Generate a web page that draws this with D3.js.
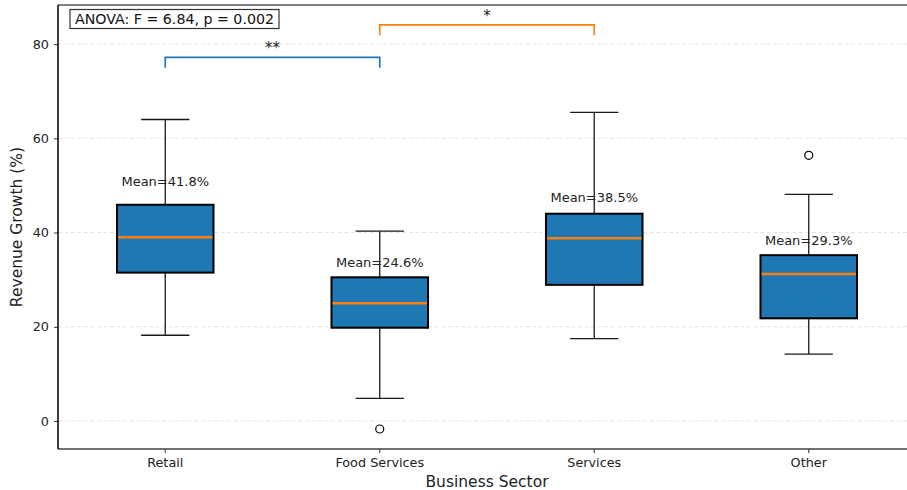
<!DOCTYPE html>
<html>
<head>
<meta charset="utf-8">
<script src="https://cdn.jsdelivr.net/npm/d3@7"></script>
<style>
  html, body { margin: 0; padding: 0; background: #fff; }
  svg { display: block; font-family: "DejaVu Sans", sans-serif; }
</style>
</head>
<body>
<svg id="chart" width="907" height="490"></svg>
<script>
// Revenue growth by business sector: box statistics
const sectors = ["Retail", "Food Services", "Services", "Other"];
const whiskerLow = [18.2, 4.8, 17.5, 14.2];
const q1 = [31.5, 19.8, 28.9, 21.8];
const medians = [39.0, 25.0, 38.8, 31.2];
const q3 = [45.9, 30.5, 44.0, 35.2];
const whiskerHigh = [64.0, 40.3, 65.5, 48.1];
const means = [41.8, 24.6, 38.5, 29.3];
const outliers = [[], [-1.7], [], [56.4]];
const yTicks = [0, 20, 40, 60, 80];

// Pairwise significance brackets
const pairFrom = ["Retail", "Food Services"];
const pairTo = ["Food Services", "Services"];
const pairHeight = [77.2, 84.1];
const pairStars = ["**", "*"];
const anovaText = "ANOVA: F = 6.84, p = 0.002";

const blue = "#1f77b4", orange = "#ff7f0e";
const svg = d3.select("#chart");
const plotL = 58, plotR = 916, plotT = 5, plotB = 449;

const x = d3.scaleBand().domain(sectors).range([plotL, plotR]).padding(0);
const y = d3.scaleLinear().domain([-5.94, 88.3]).range([plotB, plotT]);
const cx = s => x(s) + x.bandwidth() / 2;
const boxW = x.bandwidth() * 0.45;

// horizontal grid
svg.append("g").selectAll("line").data(yTicks).join("line")
  .attr("x1", plotL).attr("x2", plotR)
  .attr("y1", d => y(d)).attr("y2", d => y(d))
  .attr("stroke", "#dcdcdc").attr("stroke-width", 0.8)
  .attr("stroke-dasharray", "4,2.5");

// y axis
const yAxis = svg.append("g").attr("transform", `translate(${plotL},0)`)
  .call(d3.axisLeft(y).tickValues(yTicks).tickSize(4).tickPadding(5).tickFormat(d3.format("d")));
yAxis.select(".domain").remove();
yAxis.selectAll("text").attr("font-size", 12.8).attr("fill", "#222").attr("font-family", "DejaVu Sans");
yAxis.selectAll("line").attr("stroke", "#333");

// x axis
const xAxis = svg.append("g").attr("transform", `translate(0,${plotB})`)
  .call(d3.axisBottom(x).tickSize(4).tickPadding(5));
xAxis.select(".domain").remove();
xAxis.selectAll("text").attr("font-size", 12.8).attr("fill", "#222").attr("font-family", "DejaVu Sans");
xAxis.selectAll("line").attr("stroke", "#333");

// boxes
const g = svg.append("g");
sectors.forEach((s, i) => {
  const c = cx(s);
  // whiskers
  g.append("line").attr("x1", c).attr("x2", c)
    .attr("y1", y(q3[i])).attr("y2", y(whiskerHigh[i]))
    .attr("stroke", "#1a1a1a").attr("stroke-width", 1.3);
  g.append("line").attr("x1", c).attr("x2", c)
    .attr("y1", y(q1[i])).attr("y2", y(whiskerLow[i]))
    .attr("stroke", "#1a1a1a").attr("stroke-width", 1.3);
  // caps
  [whiskerHigh[i], whiskerLow[i]].forEach(v => {
    g.append("line").attr("x1", c - boxW / 4).attr("x2", c + boxW / 4)
      .attr("y1", y(v)).attr("y2", y(v))
      .attr("stroke", "#1a1a1a").attr("stroke-width", 1.3);
  });
  // box
  g.append("rect").attr("x", c - boxW / 2).attr("width", boxW)
    .attr("y", y(q3[i])).attr("height", y(q1[i]) - y(q3[i]))
    .attr("fill", blue).attr("stroke", "#000").attr("stroke-width", 2);
  // median
  g.append("line").attr("x1", c - boxW / 2 + 1).attr("x2", c + boxW / 2 - 1)
    .attr("y1", y(medians[i])).attr("y2", y(medians[i]))
    .attr("stroke", orange).attr("stroke-width", 2.4);
  // outliers
  outliers[i].forEach(v => {
    g.append("circle").attr("cx", c).attr("cy", y(v)).attr("r", 4)
      .attr("fill", "none").attr("stroke", "#000").attr("stroke-width", 1.2);
  });
  // mean label
  g.append("text").attr("x", c).attr("y", y(means[i] + 8))
    .attr("text-anchor", "middle").attr("font-size", 13).attr("fill", "#222")
    .text(`Mean=${means[i].toFixed(1)}%`);
});

// significance brackets
const bracketColors = [blue, orange];
pairFrom.forEach((a, i) => {
  const x1 = cx(a), x2 = cx(pairTo[i]);
  const h = pairHeight[i], drop = 2.2;
  svg.append("path")
    .attr("d", `M${x1},${y(h - drop)}V${y(h)}H${x2}V${y(h - drop)}`)
    .attr("fill", "none").attr("stroke", bracketColors[i]).attr("stroke-width", 1.7);
  svg.append("text").attr("x", (x1 + x2) / 2).attr("y", y(h) - 4)
    .attr("text-anchor", "middle").attr("font-size", 15).attr("fill", "#222")
    .text(pairStars[i]);
});

// spines
svg.append("line").attr("x1", plotL).attr("x2", plotR).attr("y1", plotT).attr("y2", plotT)
  .attr("stroke", "#808080").attr("stroke-width", 2);
svg.append("line").attr("x1", plotL).attr("x2", plotR).attr("y1", plotB).attr("y2", plotB)
  .attr("stroke", "#444").attr("stroke-width", 1.5);
svg.append("line").attr("x1", plotL).attr("x2", plotL).attr("y1", plotT).attr("y2", plotB)
  .attr("stroke", "#000").attr("stroke-width", 1.5);

// ANOVA annotation box
const anovaG = svg.append("g");
const anovaRect = anovaG.append("rect");
const at = anovaG.append("text").attr("x", 75).attr("y", 24)
  .attr("font-size", 14.2).attr("fill", "#111").text(anovaText);
const bb = at.node().getBBox();
anovaRect.attr("x", bb.x - 5).attr("y", bb.y - 1.5).attr("width", bb.width + 10).attr("height", bb.height + 3)
  .attr("fill", "#fff").attr("stroke", "#333").attr("stroke-width", 1.2);

// axis titles
svg.append("text").attr("x", 487).attr("y", 487)
  .attr("text-anchor", "middle").attr("font-size", 15.5).attr("fill", "#222").text("Business Sector");
svg.append("text").attr("transform", `translate(22,${(plotT + plotB) / 2}) rotate(-90)`)
  .attr("text-anchor", "middle").attr("font-size", 15.5).attr("fill", "#222").text("Revenue Growth (%)");
</script>
</body>
</html>
